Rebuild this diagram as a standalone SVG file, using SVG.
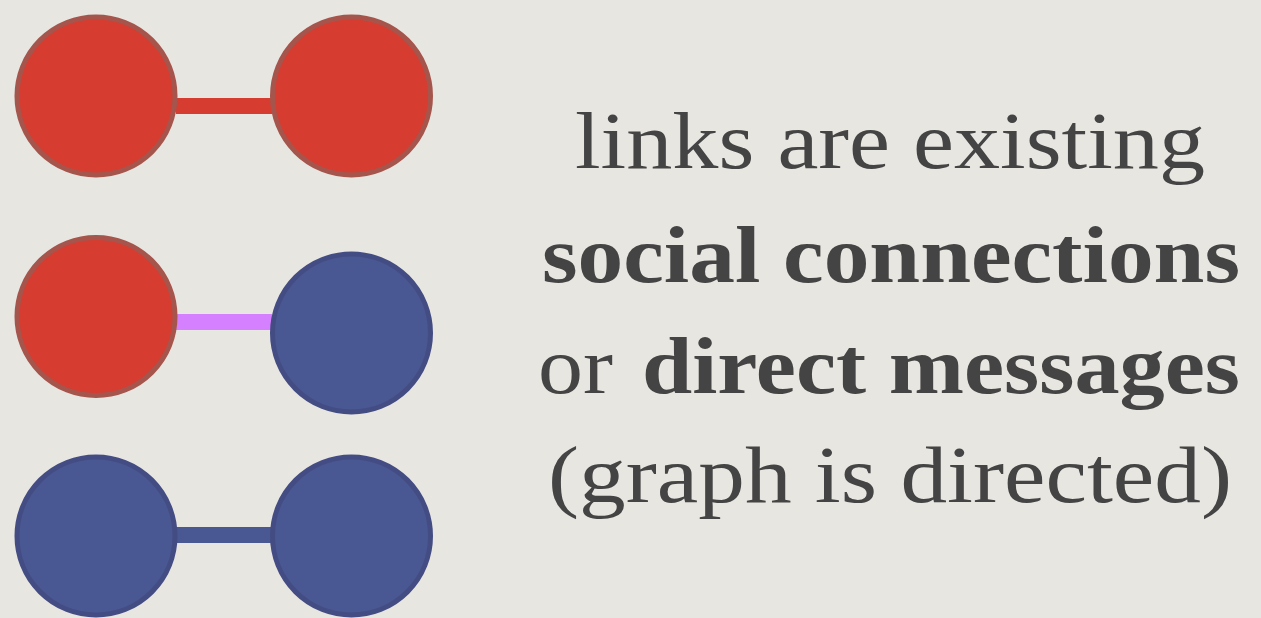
<svg xmlns="http://www.w3.org/2000/svg" width="1261" height="618" viewBox="0 0 1261 618">
<style>
.red{fill:#D73C31;stroke:#A5554C;stroke-width:5}
.blue{fill:#495793;stroke:#444D83;stroke-width:5}
.t{font-family:"Liberation Serif","DejaVu Serif",serif;font-size:80px;fill:#444444}
.b{font-weight:bold}
</style>
<rect x="0" y="0" width="1261" height="618" fill="#E8E6E1"/>
<g id="connectors">
<rect x="176" y="98" width="96" height="16" fill="#D73C31"/>
<rect x="176" y="314" width="96" height="16" fill="#D580FF"/>
<rect x="176" y="527" width="96" height="16" fill="#495793"/>
</g>
<g id="n1"><circle class="red" cx="96" cy="96" r="79"/></g>
<g id="n2"><circle class="red" cx="351.5" cy="96" r="79"/></g>
<g id="n3"><circle class="red" cx="96" cy="316.5" r="79"/></g>
<g id="n4"><circle class="blue" cx="351.5" cy="333" r="79"/></g>
<g id="n5"><circle class="blue" cx="96" cy="536" r="79"/></g>
<g id="n6"><circle class="blue" cx="351.5" cy="536" r="79"/></g>
<g id="label">
<text class="t" x="575" y="168" textLength="630" lengthAdjust="spacingAndGlyphs">links are existing</text>
<text class="t b" x="542" y="282" textLength="698" lengthAdjust="spacingAndGlyphs">social connections</text>
<text class="t" x="538" y="393" textLength="75" lengthAdjust="spacingAndGlyphs">or</text>
<text class="t b" x="642" y="393" textLength="598" lengthAdjust="spacingAndGlyphs">direct messages</text>
<text class="t" x="548" y="502" textLength="684" lengthAdjust="spacingAndGlyphs">(graph is directed)</text>
</g>
</svg>
